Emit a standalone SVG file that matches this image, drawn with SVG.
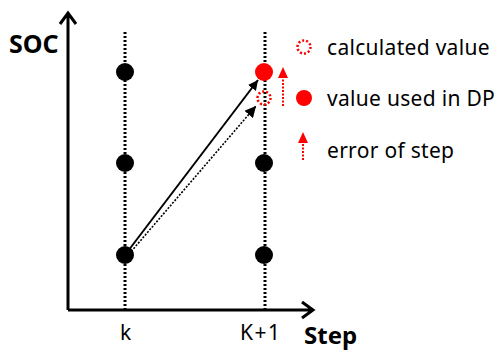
<svg xmlns="http://www.w3.org/2000/svg" width="503" height="354" viewBox="0 0 503 354">
<defs>
<style>
.ax{stroke:#000;stroke-width:3;fill:none}
.grid{stroke:#000;stroke-width:3;stroke-dasharray:2 2;fill:none}
.dot{fill:#000}
.red{fill:#f00}
.cal{fill:none;stroke:#f00;stroke-width:2.5;stroke-dasharray:2 2}
.t{font-family:"Noto Sans","Open Sans",sans-serif;font-size:21px;fill:#000;letter-spacing:0.3px}
.b{font-family:"Noto Sans","Open Sans",sans-serif;font-size:24px;font-weight:bold;fill:#000}
.err{stroke:#f00;stroke-width:2;stroke-dasharray:2 1.5;fill:none}
</style>
<marker id="ah" viewBox="0 0 10 10" refX="10" refY="5" markerWidth="5" markerHeight="5" orient="auto" markerUnits="strokeWidth"><path d="M0,0L10,5L0,10z" fill="#000"/></marker>
<marker id="ahd" viewBox="0 0 10 10" refX="10" refY="5" markerWidth="7" markerHeight="7" orient="auto" markerUnits="strokeWidth"><path d="M0,0L10,5L0,10z" fill="#000"/></marker>
</defs>
<g id="axes">
<path class="ax" d="M68,310V13M60,24L68,13L76,24"/>
<path class="ax" d="M68,310H313M302,302L313,310L302,318"/>
<text class="b" x="9" y="53" style="font-size:25px">SOC</text>
<text class="b" x="304" y="344">Step</text>
<text class="t" x="120" y="340">k</text>
<text class="t" x="240" y="340" style="letter-spacing:1.5px">K+1</text>
</g>
<g id="gridlines">
<path class="grid" d="M125,32V310M265,32V310"/>
</g>
<g id="connectors">
<path d="M125,255L258,80" stroke="#000" stroke-width="2" fill="none" marker-end="url(#ah)"/>
<path d="M129,254L256,106" stroke="#000" stroke-width="1.6" stroke-dasharray="2 1.5" fill="none" marker-end="url(#ahd)"/>
<path class="err" d="M283,106V76"/>
<path d="M278,78L283,67L288,78z" fill="#f00"/>
</g>
<g id="k-nodes">
<circle class="dot" cx="125" cy="72" r="9"/>
<circle class="dot" cx="125" cy="163" r="9"/>
<circle class="dot" cx="125" cy="255" r="9"/>
</g>
<g id="k1-nodes">
<circle class="red" cx="264" cy="72" r="9"/>
<circle class="dot" cx="264" cy="163" r="9"/>
<circle class="dot" cx="264" cy="255" r="9"/>
<circle class="cal" cx="264" cy="98" r="6.5"/>
</g>
<g id="legend">
<circle class="cal" cx="304" cy="47" r="6.5"/>
<text class="t" x="327" y="55">calculated value</text>
<circle class="red" cx="304" cy="98" r="8"/>
<text class="t" x="327" y="106">value used in DP</text>
<path class="err" d="M303,160V141"/>
<path d="M298,143L303,132L308,143z" fill="#f00"/>
<text class="t" x="327" y="158">error of step</text>
</g>
</svg>
